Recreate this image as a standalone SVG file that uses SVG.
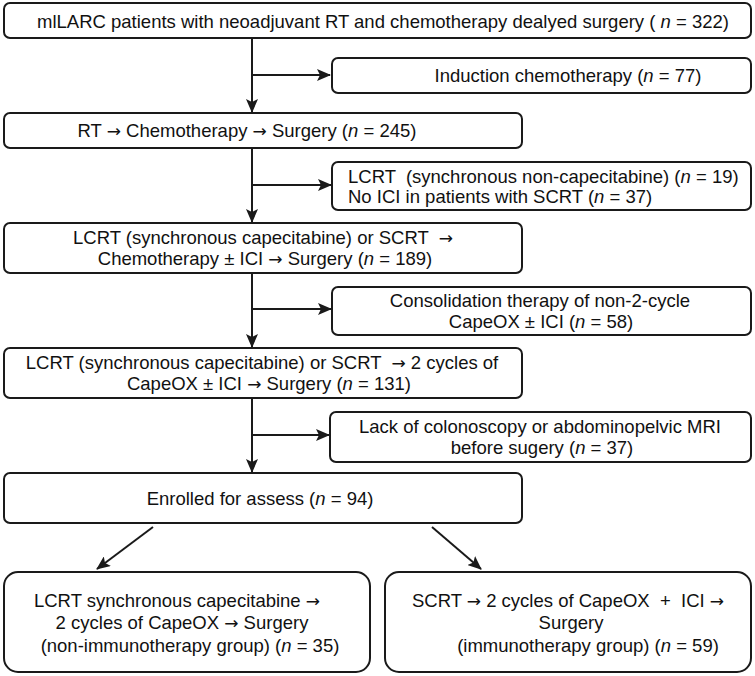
<svg xmlns="http://www.w3.org/2000/svg" width="755" height="676" viewBox="0 0 755 676" xml:space="preserve">
<defs>
<style>
.box{fill:#fff;stroke:#1a1a1a;stroke-width:2}
.t{font-family:"Liberation Sans",Arial,sans-serif;font-size:18.5px;fill:#111;white-space:pre}
.m{text-anchor:middle}
.i{font-style:italic}
.a{font-family:"DejaVu Sans",sans-serif;font-size:17px}
.c{stroke:#1a1a1a;stroke-width:2;fill:none}
</style>
<marker id="ah" markerUnits="userSpaceOnUse" markerWidth="14" markerHeight="12" refX="13" refY="6" orient="auto"><path d="M0,0 L14,6 L0,12 L3,6 z" fill="#1a1a1a"/></marker>
</defs>
<rect width="755" height="676" fill="#fff"/>
<g id="connectors">
<line class="c" x1="252" y1="38" x2="252" y2="112" marker-end="url(#ah)"/>
<line class="c" x1="252" y1="75" x2="330" y2="75" marker-end="url(#ah)"/>
<line class="c" x1="252" y1="148" x2="252" y2="222" marker-end="url(#ah)"/>
<line class="c" x1="252" y1="185" x2="331" y2="185" marker-end="url(#ah)"/>
<line class="c" x1="252" y1="273" x2="252" y2="347" marker-end="url(#ah)"/>
<line class="c" x1="252" y1="309" x2="331" y2="309" marker-end="url(#ah)"/>
<line class="c" x1="252" y1="398" x2="252" y2="472" marker-end="url(#ah)"/>
<line class="c" x1="252" y1="435" x2="329" y2="435" marker-end="url(#ah)"/>
<line class="c" x1="153" y1="527" x2="97" y2="569" marker-end="url(#ah)"/>
<line class="c" x1="432" y1="527" x2="481" y2="569" marker-end="url(#ah)"/>
</g>
<g id="n1">
<rect class="box" x="4" y="3" width="747" height="35" rx="6"/>
<text class="t m" x="383" y="28">mlLARC patients with neoadjuvant RT and chemotherapy dealyed surgery ( <tspan class="i">n</tspan> = 322)</text>
</g>
<g id="n2">
<rect class="box" x="332" y="58" width="419" height="35" rx="6"/>
<text class="t m" x="568" y="82">Induction chemotherapy (<tspan class="i">n</tspan> = 77)</text>
</g>
<g id="n3">
<rect class="box" x="4" y="113" width="518" height="35" rx="6"/>
<text class="t m" x="247" y="137">RT <tspan class="a">→</tspan> Chemotherapy <tspan class="a">→</tspan> Surgery (<tspan class="i">n</tspan> = 245)</text>
</g>
<g id="n4">
<rect class="box" x="332" y="162" width="419" height="48" rx="6"/>
<text class="t" x="348" y="183">LCRT  (synchronous non-capecitabine) (<tspan class="i">n</tspan> = 19)</text>
<text class="t" x="348" y="203">No ICI in patients with SCRT (<tspan class="i">n</tspan> = 37)</text>
</g>
<g id="n5">
<rect class="box" x="4" y="223" width="518" height="50" rx="6"/>
<text class="t m" x="263" y="244">LCRT (synchronous capecitabine) or SCRT  <tspan class="a">→</tspan></text>
<text class="t m" x="265" y="265">Chemotherapy ± ICI <tspan class="a">→</tspan> Surgery (<tspan class="i">n</tspan> = 189)</text>
</g>
<g id="n6">
<rect class="box" x="332" y="287" width="419" height="48" rx="6"/>
<text class="t m" x="540" y="307">Consolidation therapy of non-2-cycle</text>
<text class="t m" x="541" y="328">CapeOX ± ICI (<tspan class="i">n</tspan> = 58)</text>
</g>
<g id="n7">
<rect class="box" x="4" y="348" width="518" height="50" rx="6"/>
<text class="t m" x="262" y="369">LCRT (synchronous capecitabine) or SCRT  <tspan class="a">→</tspan> 2 cycles of</text>
<text class="t m" x="269" y="390">CapeOX ± ICI <tspan class="a">→</tspan> Surgery (<tspan class="i">n</tspan> = 131)</text>
</g>
<g id="n8">
<rect class="box" x="330" y="412" width="421" height="50" rx="6"/>
<text class="t m" x="540" y="433">Lack of colonoscopy or abdominopelvic MRI</text>
<text class="t m" x="542" y="454">before sugery (<tspan class="i">n</tspan> = 37)</text>
</g>
<g id="n9">
<rect class="box" x="4" y="473" width="518" height="50" rx="6"/>
<text class="t m" x="260" y="505">Enrolled for assess (<tspan class="i">n</tspan> = 94)</text>
</g>
<g id="n10">
<rect class="box" x="4" y="572" width="366" height="100" rx="14"/>
<text class="t m" x="177" y="607">LCRT synchronous capecitabine <tspan class="a">→</tspan></text>
<text class="t m" x="182" y="629">2 cycles of CapeOX <tspan class="a">→</tspan> Surgery</text>
<text class="t m" x="190" y="652">(non-immunotherapy group) (<tspan class="i">n</tspan> = 35)</text>
</g>
<g id="n11">
<rect class="box" x="385" y="572" width="366" height="100" rx="14"/>
<text class="t m" x="568" y="607">SCRT <tspan class="a">→</tspan> 2 cycles of CapeOX  +  ICI <tspan class="a">→</tspan></text>
<text class="t m" x="571" y="629">Surgery</text>
<text class="t m" x="588" y="652">(immunotherapy group) (<tspan class="i">n</tspan> = 59)</text>
</g>
</svg>
